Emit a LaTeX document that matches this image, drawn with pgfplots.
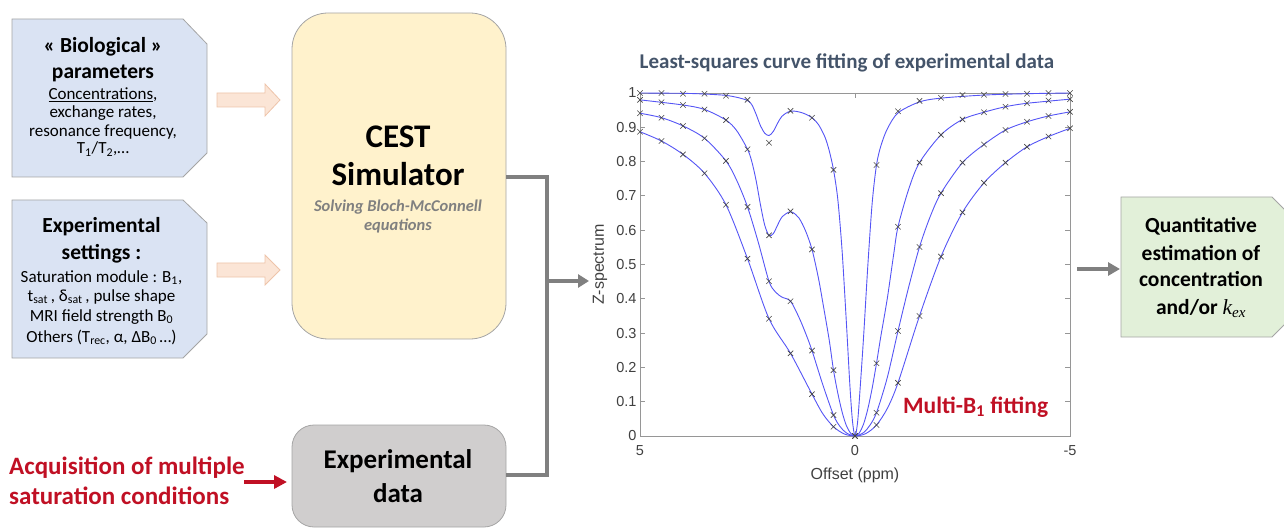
\documentclass[border=0pt]{standalone}
\usepackage{pgfplots}
\pgfplotsset{compat=1.18}
\usepackage{pgfplotstable}
\usepackage{fontspec}
\setmainfont{Carlito}
\newfontfamily\axfont{Liberation Sans}
\newfontfamily\serifit{Liberation Serif}
\usetikzlibrary{arrows.meta}

\newcommand\fs[1]{\fontsize{#1}{#1}\selectfont}

\definecolor{bluebox}{RGB}{218,227,243}
\definecolor{yellowbox}{RGB}{255,242,204}
\definecolor{graybox}{RGB}{208,206,206}
\definecolor{greenbox}{RGB}{226,240,217}
\definecolor{peach}{RGB}{251,229,214}
\definecolor{peachline}{RGB}{238,196,170}
\definecolor{boxline}{RGB}{165,165,165}
\definecolor{conn}{RGB}{128,128,128}
\definecolor{darkred}{RGB}{192,16,36}
\definecolor{titlecol}{RGB}{68,84,106}
\definecolor{subtle}{RGB}{128,128,128}
\definecolor{fitblue}{RGB}{85,85,245}
\definecolor{markgray}{RGB}{70,70,70}
\definecolor{axgray}{RGB}{150,150,150}
\definecolor{ticktext}{RGB}{64,64,64}

% measured points (x marks), offset in ppm vs Z
\pgfplotstableread{
x y
5 1.0
4.5 1.0
4 0.998
3.5 0.998
3 0.992
2.5 0.98
2 0.855
1.5 0.948
1 0.928
0.5 0.776
0 0
-0.5 0.79
-1 0.947
-1.5 0.977
-2 0.986
-2.5 0.994
-3 0.995
-3.5 0.997
-4 0.998
-4.5 1.0
-5 1.0
}\mA
\pgfplotstableread{
x y
5 0.980
4.5 0.973
4 0.965
3.5 0.952
3 0.921
2.5 0.836
2 0.585
1.5 0.655
1 0.544
0.5 0.192
0 0
-0.5 0.212
-1 0.610
-1.5 0.797
-2 0.878
-2.5 0.923
-3 0.944
-3.5 0.960
-4 0.970
-4.5 0.978
-5 0.982
}\mB
\pgfplotstableread{
x y
5 0.941
4.5 0.928
4 0.904
3.5 0.868
3 0.802
2.5 0.668
2 0.451
1.5 0.393
1 0.249
0.5 0.061
0 0
-0.5 0.068
-1 0.306
-1.5 0.551
-2 0.708
-2.5 0.797
-3 0.850
-3.5 0.892
-4 0.916
-4.5 0.933
-5 0.945
}\mC
\pgfplotstableread{
x y
5 0.887
4.5 0.860
4 0.821
3.5 0.766
3 0.674
2.5 0.517
2 0.342
1.5 0.241
1 0.122
0.5 0.027
0 0
-0.5 0.032
-1 0.155
-1.5 0.350
-2 0.523
-2.5 0.652
-3 0.738
-3.5 0.797
-4 0.843
-4.5 0.873
-5 0.897
}\mD

% fitted curves
\pgfplotstableread{
x y
5 1.0
4 0.999
3.5 0.997
3 0.993
2.7 0.986
2.5 0.978
2.4 0.966
2.3 0.938
2.2 0.905
2.1 0.883
2.0 0.876
1.9 0.888
1.8 0.912
1.7 0.932
1.55 0.945
1.4 0.947
1.2 0.941
1.0 0.928
0.85 0.908
0.7 0.872
0.6 0.832
0.5 0.776
0.4 0.69
0.3 0.54
0.2 0.33
0.12 0.15
0.06 0.045
0 0
-0.06 0.04
-0.12 0.14
-0.2 0.29
-0.3 0.50
-0.4 0.68
-0.5 0.79
-0.6 0.845
-0.75 0.895
-1.0 0.942
-1.5 0.974
-2 0.985
-3 0.994
-4 0.998
-5 1.0
}\cA
\pgfplotstableread{
x y
5 0.980
4 0.965
3.5 0.952
3 0.921
2.75 0.89
2.5 0.836
2.4 0.80
2.3 0.745
2.2 0.675
2.1 0.615
2.0 0.585
1.9 0.59
1.8 0.615
1.7 0.638
1.55 0.652
1.45 0.652
1.3 0.635
1.15 0.598
1.0 0.544
0.85 0.46
0.75 0.39
0.6 0.28
0.5 0.192
0.4 0.125
0.3 0.07
0.2 0.03
0.1 0.008
0 0
-0.1 0.009
-0.2 0.035
-0.3 0.08
-0.4 0.14
-0.5 0.212
-0.6 0.29
-0.75 0.40
-0.9 0.53
-1 0.61
-1.25 0.72
-1.5 0.797
-2 0.878
-2.5 0.923
-3 0.944
-3.5 0.960
-4 0.970
-5 0.982
}\cB
\pgfplotstableread{
x y
5 0.941
4.5 0.928
4 0.904
3.5 0.868
3 0.802
2.75 0.745
2.5 0.668
2.25 0.565
2.0 0.451
1.85 0.42
1.7 0.405
1.5 0.393
1.3 0.345
1.15 0.30
1.0 0.249
0.75 0.15
0.5 0.061
0.35 0.028
0.2 0.009
0 0
-0.2 0.01
-0.35 0.032
-0.5 0.068
-0.75 0.17
-1 0.306
-1.25 0.435
-1.5 0.551
-1.75 0.64
-2 0.708
-2.5 0.797
-3 0.850
-3.5 0.892
-4 0.916
-4.5 0.933
-5 0.945
}\cC
\pgfplotstableread{
x y
5 0.887
4.5 0.860
4 0.821
3.5 0.766
3 0.674
2.5 0.517
2 0.342
1.5 0.241
1 0.122
0.75 0.065
0.5 0.027
0.25 0.006
0 0
-0.25 0.007
-0.5 0.032
-0.75 0.08
-1 0.155
-1.5 0.350
-2 0.523
-2.5 0.652
-3 0.738
-3.5 0.797
-4 0.843
-4.5 0.873
-5 0.897
}\cD

\begin{document}
\begin{tikzpicture}
\path[use as bounding box] (0pt,0pt) rectangle (1284pt,-529pt);

\begin{scope}[x=1pt,y=-1pt]
  % input boxes
  \filldraw[fill=bluebox, draw=boxline, line width=0.8pt]
    (12,19) -- (183,19) -- (207,44) -- (207,153) -- (183,177) -- (12,177) -- cycle;
  \filldraw[fill=bluebox, draw=boxline, line width=0.8pt]
    (12,200) -- (183,200) -- (207,223) -- (207,334) -- (183,358) -- (12,358) -- cycle;

  \node[anchor=base, font=\bfseries\fs{21.5}] at (103,53) {« Biological »};
  \node[anchor=base, font=\bfseries\fs{21.5}] at (103,79) {parameters};
  \node[anchor=base, font=\fs{17}] at (103,100) {\underline{Concentrations},};
  \node[anchor=base, font=\fs{17}] at (103,118) {exchange rates,};
  \node[anchor=base, font=\fs{17}] at (103,137) {resonance frequency,};
  \node[anchor=base, font=\fs{17}] at (103,154) {T\textsubscript{1}/T\textsubscript{2},…};

  \node[anchor=base, font=\bfseries\fs{21.5}] at (101.5,233) {Experimental};
  \node[anchor=base, font=\bfseries\fs{21.5}] at (101.5,260) {settings :};
  \node[anchor=base, font=\fs{17}] at (101.5,282) {Saturation module : B\textsubscript{1},};
  \node[anchor=base, font=\fs{17}] at (101.5,301) {t\textsubscript{sat}\,, δ\textsubscript{sat}\,, pulse shape};
  \node[anchor=base, font=\fs{17}] at (101.5,321) {MRI field strength B\textsubscript{0}};
  \node[anchor=base, font=\fs{17}] at (101.5,342) {Others (T\textsubscript{rec}, α, ΔB\textsubscript{0}\,…)};

  % peach block arrows
  \filldraw[fill=peach, draw=peachline, line width=0.8pt]
    (217,93) -- (265,93) -- (265,84) -- (280,100) -- (265,116) -- (265,107) -- (217,107) -- cycle;
  \filldraw[fill=peach, draw=peachline, line width=0.8pt]
    (217,263) -- (265,263) -- (265,255) -- (280,270) -- (265,285) -- (265,277) -- (217,277) -- cycle;

  % simulator and data boxes
  \filldraw[fill=yellowbox, draw=boxline, line width=0.8pt, rounded corners=36pt]
    (292,13) rectangle (506,339);
  \filldraw[fill=graybox, draw=boxline, line width=0.8pt, rounded corners=22pt]
    (292,425) rectangle (506,527);

  \node[anchor=base, font=\bfseries\fs{33}] at (398,148) {CEST};
  \node[anchor=base, font=\bfseries\fs{33}] at (398,186) {Simulator};
  \node[anchor=base, font=\bfseries\itshape\fs{16.5}, text=subtle] at (398,212) {Solving Bloch-McConnell};
  \node[anchor=base, font=\bfseries\itshape\fs{16.5}, text=subtle] at (398,231) {equations};

  \node[anchor=base, font=\bfseries\fs{27}] at (398,468) {Experimental};
  \node[anchor=base, font=\bfseries\fs{27}] at (398,502) {data};

  % red acquisition text
  \node[anchor=base west, inner sep=0pt, font=\bfseries\fs{25}, text=darkred] at (9,474.3) {Acquisition of multiple};
  \node[anchor=base west, inner sep=0pt, font=\bfseries\fs{25}, text=darkred] at (9,504.3) {saturation conditions};
  \draw[darkred, line width=4pt, -{Triangle[length=13pt,width=13pt]}] (244,482) -- (287,482);

  % connectors
  \draw[conn, line width=4pt, line join=miter] (506,177) -- (547,177) -- (547,475) -- (506,475);
  \draw[conn, line width=4pt, -{Triangle[length=11pt,width=13pt]}] (547,281) -- (589,281);
  \draw[conn, line width=4pt, -{Triangle[length=12pt,width=13pt]}] (1077,269) -- (1120,269);

  % output box
  \begin{scope}
    \clip (0,0) rectangle (1284,529);
    \filldraw[fill=greenbox, draw=boxline, line width=0.8pt]
      (1121,197) -- (1272,197) -- (1296,221) -- (1296,313) -- (1272,337) -- (1121,337) -- cycle;
  \end{scope}
  \node[anchor=base, font=\bfseries\fs{21.5}] at (1201,233) {Quantitative};
  \node[anchor=base, font=\bfseries\fs{21.5}] at (1201,260.5) {estimation of};
  \node[anchor=base, font=\bfseries\fs{21.5}] at (1201,287) {concentration};
  \node[anchor=base, font=\bfseries\fs{21.5}] at (1201,314) {and/or {\serifit\mdseries\itshape k\textsubscript{ex}}};
\end{scope}

\begin{axis}[
  at={(640pt,-436pt)}, anchor=south west,
  width=430pt, height=343pt, scale only axis,
  xmin=-5, xmax=5, ymin=0, ymax=1, x dir=reverse,
  clip=false,
  xtick={-5,0,5}, xticklabels={-5,0,5},
  ytick={0,0.1,0.2,0.3,0.4,0.5,0.6,0.7,0.8,0.9,1},
  yticklabels={0,0.1,0.2,0.3,0.4,0.5,0.6,0.7,0.8,0.9,1},
  xtick pos=both, ytick pos=both,
  xticklabel pos=lower, yticklabel pos=left,
  tick align=inside, major tick length=5pt,
  axis line style={draw=axgray, line width=0.8pt},
  tick style={draw=axgray, line width=0.8pt},
  tick label style={font=\axfont\fs{14.5}, text=ticktext},
  xticklabel style={yshift=-6pt},
  label style={font=\axfont\fs{16}, text=ticktext},
  xlabel={Offset (ppm)},
  xlabel style={at={(axis description cs:0.5,-0.1254)}, anchor=base},
  ylabel={Z-spectrum},
  ylabel style={at={(axis description cs:-0.093,0.5)}, anchor=center},
  every axis title shift=0pt,
  title={Least-squares curve fitting of experimental data},
  title style={at={(axis description cs:0.4814,1.07)}, anchor=base,
    font=\bfseries\fs{21}, text=titlecol},
]
\addplot[fitblue, line width=0.9pt, smooth] table {\cA};
\addplot[fitblue, line width=0.9pt, smooth] table {\cB};
\addplot[fitblue, line width=0.9pt, smooth] table {\cC};
\addplot[fitblue, line width=0.9pt, smooth] table {\cD};
\addplot[only marks, mark=x, mark size=3.8pt, mark options={draw=markgray, line width=0.6pt}] table {\mA};
\addplot[only marks, mark=x, mark size=3.8pt, mark options={draw=markgray, line width=0.6pt}] table {\mB};
\addplot[only marks, mark=x, mark size=3.8pt, mark options={draw=markgray, line width=0.6pt}] table {\mC};
\addplot[only marks, mark=x, mark size=3.8pt, mark options={draw=markgray, line width=0.6pt}] table {\mD};
\node[anchor=base west, inner sep=0pt, font=\bfseries\fs{23.5}, text=darkred]
  at (axis cs:-1.116,0.067) {Multi-B\textsubscript{1} fitting};
\end{axis}
\end{tikzpicture}
\end{document}
